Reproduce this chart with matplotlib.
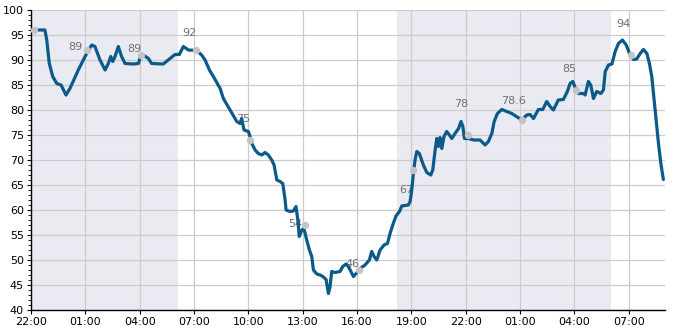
import matplotlib
matplotlib.use('Agg')
import matplotlib.pyplot as plt
from matplotlib.ticker import MultipleLocator

# 时间轴: 从 22:00 起算的小时数
hours = [
    0.0, 0.77, 0.87, 1.01, 1.2, 1.42, 1.66, 1.93, 2.15, 2.61, 3.07, 3.35, 3.53,
    3.81, 4.09, 4.27, 4.4, 4.51, 4.64, 4.82, 5.0, 5.19, 5.65, 5.93, 6.07, 6.2,
    6.48, 6.66, 7.3, 7.68, 7.95, 8.19, 8.41, 8.69, 9.15, 9.42, 9.61, 9.85, 10.07,
    10.44, 10.62, 10.99, 11.36, 11.54, 11.63, 11.76, 12.0, 12.09, 12.19, 12.37,
    12.55, 12.74, 12.92, 13.1, 13.29, 13.42, 13.57, 13.75, 13.9, 14.03, 14.08,
    14.3, 14.48, 14.63, 14.73, 14.81, 14.95, 15.07, 15.22, 15.37, 15.5, 15.59,
    15.78, 15.96, 16.11, 16.29, 16.42, 16.51, 16.6, 16.79, 17.06, 17.21, 17.39,
    17.52, 17.8, 17.95, 18.17, 18.44, 18.68, 18.81, 18.94, 19.09, 19.27, 19.49,
    19.68, 19.82, 20.0, 20.15, 20.34, 20.47, 20.83, 20.93, 21.02, 21.11, 21.2,
    21.3, 21.44, 21.66, 21.85, 22.07, 22.18, 22.31, 22.4, 22.49, 22.58, 22.68,
    22.8, 22.95, 23.1, 23.23, 23.41, 23.6, 23.74, 23.84, 23.93, 24.15, 24.43,
    24.79, 25.07, 25.25, 25.44, 25.57, 25.75, 25.99, 26.54, 27.1, 27.37, 27.55,
    27.74, 28.01, 28.25, 28.47, 28.66, 28.84, 29.11, 29.39, 29.61, 29.76, 29.91,
    30.09, 30.22, 30.5, 30.59, 30.77, 30.9, 31.05, 31.23, 31.46, 31.6, 31.7,
    31.88, 32.07, 32.25, 32.43, 32.65, 32.86, 33.04, 33.26, 33.44, 33.63, 33.81,
    34.0, 34.14, 34.27, 34.4, 34.51, 34.64, 34.77, 34.91,
]
values = [
    96, 96, 94, 89.3, 86.7, 85.3, 85, 83, 84.3, 88, 91.3, 93, 92.7,
    90, 88, 89.3, 90.7, 89.7, 90.7, 92.7, 90.7, 89.3, 89.2, 89.3, 91, 91,
    90.3, 89.3, 89.2, 90.3, 91.1, 91.1, 92.7, 92, 91.9, 91, 90, 88, 86.7,
    84.3, 82.3, 80, 77.7, 77.3, 78.3, 76, 75.7, 74.7, 73.3, 72,
    71.3, 71, 71.5, 71, 70, 69, 66, 65.7, 65.3, 62, 60,
    59.7, 59.8, 60.7, 58, 54.7, 56, 56.3, 54, 52, 50.7, 48,
    47.2, 47, 46.7, 46.1, 43.3, 44.7, 47.7, 47.5, 47.7, 48.7, 49.2,
    48.7, 46.7, 47.3, 48.3, 49, 50, 51.7, 50.7, 50, 52, 53,
    53.3, 55.3, 57.3, 58.8, 59.7, 60.8, 61, 61.7, 64, 67.3, 70,
    71.7, 71.3, 69, 67.5, 67, 68, 72, 74.3, 72.7, 74.5, 72.3,
    74.7, 75.7, 75, 74.3, 75.3, 76.3, 77.7, 76.7, 74.3, 74.3, 74,
    74, 73, 73.7, 75.3, 77.7, 79.3, 80.1, 79.3, 78, 79, 79.1,
    78.3, 80.1, 80.1, 81.7, 80.7, 80, 82, 82.1, 83.7, 85.3, 85.7,
    84, 83.3, 83.3, 83, 85.7, 85, 82.3, 83.7, 83.3, 84, 87.7,
    89, 89.2, 91.7, 93.3, 94, 93, 91.3, 90.1, 90.2, 91.3, 92.1,
    91.3, 89.3, 86.7, 82, 78, 73.3, 69.3, 66.1,
]

# 预报点
fc_hours = [0.15, 3.1, 6.1, 9.1, 12.1, 15.1, 18.1, 21.1, 24.1, 27.1, 30.1, 33.1]
fc_values = [96, 92, 91, 92, 74, 57, 48, 68, 75, 78, 84, 91]
fc_labels = ['', '89', '89', '92', '75', '54', '46', '67', '78', '78.6', '85', '94']
# 标签偏移 (像素)
fc_offsets = [(0, 0), (-12, 3), (-7, 6), (-6, 17), (-7, 21), (-9, 1), (-6, 6),
              (-7, -20), (-6, 31), (-8, 19), (-7, 21), (-7, 31)]

# 夜间区间
nights = [(0.0, 8.1), (20.2, 32.0)]

tick_labels = ['22:00', '01:00', '04:00', '07:00', '10:00', '13:00',
               '16:00', '19:00', '22:00', '01:00', '04:00', '07:00']

fig = plt.figure(figsize=(6.85, 3.3), dpi=100)
ax = fig.add_axes([31 / 685, 20 / 330, 634 / 685, 300 / 330])

for start, end in nights:
    ax.axvspan(start, end, color='#eaeaf2', lw=0, zorder=0)

ax.plot(hours, values, color='#0b5a8a', lw=2.3, solid_joinstyle='round',
        solid_capstyle='round', zorder=3)
ax.scatter(fc_hours, fc_values, s=28, color='#c4c4c4', zorder=4, lw=0)
for h, v, lab, off in zip(fc_hours, fc_values, fc_labels, fc_offsets):
    if lab:
        ax.annotate(lab, (h, v), xytext=off, textcoords='offset pixels',
                    ha='center', va='center', fontsize=8, color='#707070', zorder=2)

ax.set_xlim(0, 35)
ax.set_ylim(40, 100)
ax.set_xticks([3 * i for i in range(len(tick_labels))])
ax.set_xticklabels(tick_labels)
ax.yaxis.set_major_locator(MultipleLocator(5))
ax.yaxis.set_minor_locator(MultipleLocator(1))
ax.tick_params(axis='both', labelsize=8, length=3, width=0.8, pad=2)
ax.tick_params(axis='y', which='minor', length=2, width=0.6)

ax.grid(True, color='#cccccc', lw=0.9, zorder=1)
ax.set_axisbelow(True)
for side in ['top', 'right']:
    ax.spines[side].set_visible(False)
for side in ['left', 'bottom']:
    ax.spines[side].set_color('black')
    ax.spines[side].set_linewidth(1.0)

plt.savefig('out.png', dpi=100)
